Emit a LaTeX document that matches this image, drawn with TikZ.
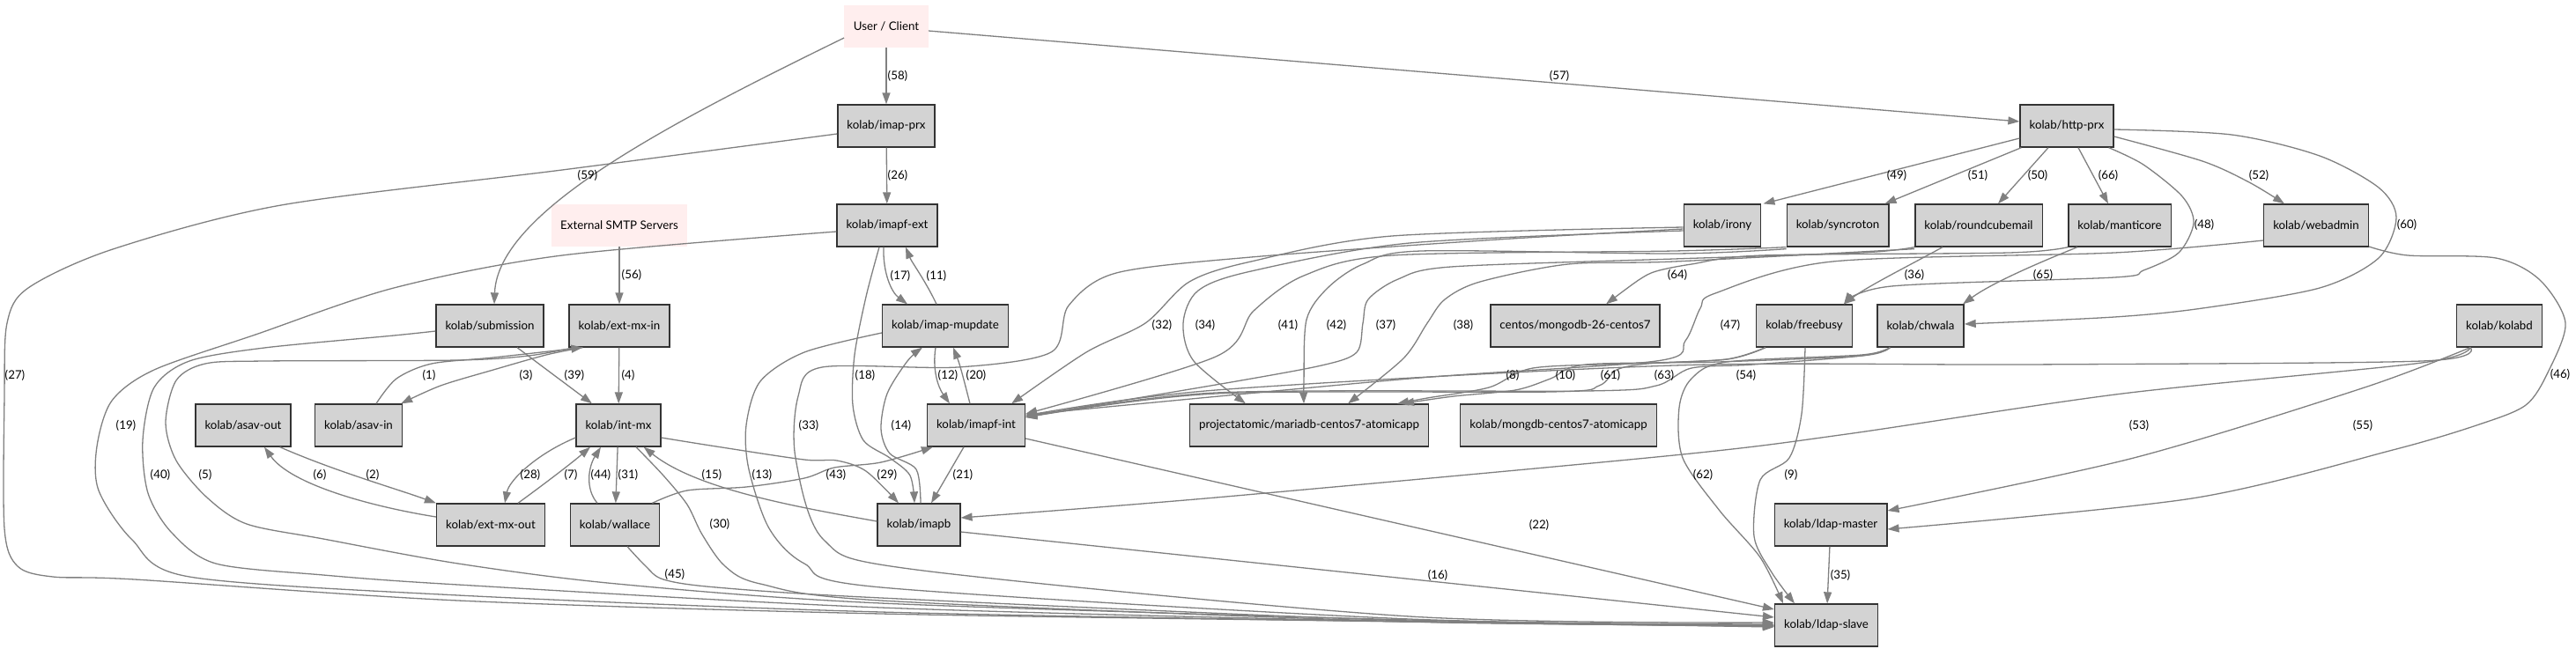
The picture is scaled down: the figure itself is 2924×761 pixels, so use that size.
\documentclass[tikz,border=0pt]{standalone}
\usepackage{fontspec}
\setmainfont{Lato}
\usetikzlibrary{arrows.meta,calc}
\definecolor{boxgray}{HTML}{D3D3D3}
\definecolor{linkgray}{HTML}{808080}
\definecolor{extpink}{HTML}{FFEEEE}
\tikzset{
  box/.style={draw=black!80, line width=1.3pt, fill=boxgray, minimum height=48pt, inner xsep=10.6pt, inner ysep=0pt, font=\fontsize{13.3}{16}\selectfont},
  extbox/.style={fill=extpink, minimum height=48pt, inner xsep=10.6pt, inner ysep=0pt, font=\fontsize{13.3}{16}\selectfont},
  link/.style={draw=linkgray, line width=1.3pt, -{Triangle[length=13pt,width=9pt]}},
  lbl/.style={font=\fontsize{13.3}{16}\selectfont, inner sep=0pt}
}
\begin{document}
\begin{tikzpicture}[x=1pt,y=-1pt]
    \useasboundingbox (0,0) rectangle (2924,761);

    % Outside
    \node[extbox] (user) at (1006,30) {User / Client};
    \node[extbox] (smtp) at (703,256) {External SMTP Servers};

    % IMAP
    \node[box] (imapprx) at (1006,143) {kolab/imap-prx};
    \node[box] (imapfext) at (1007,256) {kolab/imapf-ext};
    \node[box] (mupdate) at (1073,370) {kolab/imap-mupdate};
    \node[box] (imapfint) at (1108,483) {kolab/imapf-int};
    \node[box] (imapb) at (1043,596) {kolab/imapb};

    % Databases
    \node[box] (mariadb) at (1486,483) {projectatomic/mariadb-centos7-atomicapp};
    \node[box] (mongoapp) at (1769,483) {kolab/mongdb-centos7-atomicapp};
    \node[box] (mongo26) at (1788,370) {centos/mongodb-26-centos7};

    % Web
    \node[box] (httpprx) at (2346,143) {kolab/http-prx};
    \node[box] (irony) at (1955,256) {kolab/irony};
    \node[box] (syncroton) at (2086,256) {kolab/syncroton};
    \node[box] (roundcube) at (2246,256) {kolab/roundcubemail};
    \node[box] (manticore) at (2406,256) {kolab/manticore};
    \node[box] (webadmin) at (2629,256) {kolab/webadmin};
    \node[box] (freebusy) at (2048,370) {kolab/freebusy};
    \node[box] (chwala) at (2180,370) {kolab/chwala};
    \node[box] (kolabd) at (2837,370) {kolab/kolabd};

    % LDAP
    \node[box] (ldapmaster) at (2078,596) {kolab/ldap-master};
    \node[box] (ldapslave) at (2073,710) {kolab/ldap-slave};

    % Mail
    \node[box] (submission) at (556,370) {kolab/submission};
    \node[box] (extmxin) at (703,370) {kolab/ext-mx-in};
    \node[box] (asavout) at (276,483) {kolab/asav-out};
    \node[box] (asavin) at (407,483) {kolab/asav-in};
    \node[box] (intmx) at (702,483) {kolab/int-mx};
    \node[box] (extmxout) at (557,596) {kolab/ext-mx-out};
    \node[box] (wallace) at (698,596) {kolab/wallace};

    % From the outside
    \draw[link] (user) -- (imapprx) node[lbl] (l58) at (1019,86) {(58)};
    \draw[link] ($(user.east)+(0,5)$) -- ($(httpprx.west)+(0,-5)$) node[lbl] (l57) at (1770,86) {(57)};
    \draw[link] ($(user.west)+(0,13)$) .. controls (760,140) and (565,240) .. ($(submission.north)+(5,0)$) node[lbl] (l59) at (667,199) {(59)};
    \draw[link] (smtp) -- (extmxin) node[lbl] (l56) at (717,312) {(56)};

    % Mail chain
    \draw[link] plot[smooth] coordinates {($(asavin.north)+(20,0)$) (450,430) (490,413) (560,406) ($(extmxin.south west)+(16,0)$)} node[lbl] (l1) at (487,426) {(1)};
    \draw[link] plot[smooth] coordinates {($(extmxin.south west)+(16,0)$) (620,403) (560,420) (500,438) ($(asavin.north east)+(-2,0)$)} node[lbl] (l3) at (597,426) {(3)};
    \draw[link] ($(asavout.south east)+(-13,0)$) .. controls (380,535) and (450,555) .. (extmxout.north west) node[lbl] (l2) at (423,539) {(2)};
    \draw[link] ($(extmxout.west)+(0,-9)$) .. controls (420,575) and (330,550) .. ($(asavout.south)+(24,0)$) node[lbl] (l6) at (363,539) {(6)};
    \draw[link] ($(submission.south)+(31,0)$) -- ($(intmx.north)+(-30,0)$) node[lbl] (l39) at (652,426) {(39)};
    \draw[link] (extmxin) -- (intmx) node[lbl] (l4) at (713,426) {(4)};
    \draw[link] ($(intmx.west)+(0,14)$) .. controls (610,515) and (578,545) .. ($(extmxout.north)+(16,0)$) node[lbl] (l28) at (602,539) {(28)};
    \draw[link] ($(extmxout.north)+(31,0)$) .. controls (620,548) and (650,525) .. ($(intmx.south)+(-32,0)$) node[lbl] (l7) at (648,539) {(7)};
    \draw[link] ($(wallace.north)+(-20,0)$) .. controls (664,555) and (668,530) .. ($(intmx.south)+(-20,0)$) node[lbl] (l44) at (682,539) {(44)};
    \draw[link] (intmx) -- (wallace) node[lbl] (l31) at (713,539) {(31)};
    \draw[link] ($(imapb.west)+(0,-4)$) .. controls (900,575) and (790,555) .. ($(intmx.south east)+(-20,0)$) node[lbl] (l15) at (808,539) {(15)};
    \draw[link] plot[smooth] coordinates {($(intmx.east)+(0,14)$) (813,507) (913,522) (950,523) (983,535) ($(imapb.north)+(-23,0)$)} node[lbl] (l29) at (1007,539) {(29)};
    \draw[link] plot[smooth] coordinates {($(wallace.north east)+(-9,0)$) (780,557) (847,553) (913,543) (947,531) (1000,525) ($(imapfint.south west)+(7,0)$)} node[lbl] (l43) at (949,539) {(43)};

    % IMAP chain
    \draw[link] (imapprx) -- (imapfext) node[lbl] (l26) at (1019,199) {(26)};
    \draw[link] ($(mupdate.north)+(-10,0)$) .. controls (1050,318) and (1035,298) .. ($(imapfext.south)+(21,0)$) node[lbl] (l11) at (1063,313) {(11)};
    \draw[link] ($(imapfext.south)+(-4,0)$) .. controls (1002,310) and (1012,332) .. ($(mupdate.north)+(-43,0)$) node[lbl] (l17) at (1022,313) {(17)};
    \draw[link] plot[smooth] coordinates {($(imapfext.south)+(-9,0)$) (983,337) (970,403) (968,460) (980,500) (1010,520) (1033,540) ($(imapb.north)+(-5,0)$)} node[lbl] (l18) at (982,426) {(18)};
    \draw[link] plot[smooth] coordinates {($(imapb.north)+(2,0)$) (1040,533) (1010,515) (1000,487) (1007,447) (1030,410) ($(mupdate.south)+(-26,0)$)} node[lbl] (l14) at (1023,483) {(14)};
    \draw[link] ($(mupdate.south)+(-11,0)$) .. controls (1058,420) and (1065,440) .. ($(imapfint.north)+(-30,0)$) node[lbl] (l12) at (1076,426) {(12)};
    \draw[link] ($(imapfint.north)+(-7,0)$) .. controls (1095,435) and (1090,415) .. ($(mupdate.south)+(9,0)$) node[lbl] (l20) at (1108,426) {(20)};
    \draw[link] ($(imapfint.south)+(-14,0)$) -- ($(imapb.north)+(14,0)$) node[lbl] (l21) at (1093,539) {(21)};

    % To ldap-slave
    \draw[link] plot[smooth] coordinates {($(imapprx.west)+(0,9)$) (638,193) (319,233) (128,283) (32,327) (8,367) (5,450) (5,600) (20,643) (60,655) (153,658) (520,682) (1000,697) (1600,706) ($(ldapslave.west)+(0,1)$)} node[lbl] (l27) at (17,426) {(27)};
    \draw[link] plot[smooth] coordinates {($(imapfext.west)+(0,7)$) (638,290) (447,327) (290,380) (175,420) (127,455) (110,507) (112,557) (150,613) (215,655) (520,676) (1000,695) (1600,706) ($(ldapslave.west)+(0,0)$)} node[lbl] (l19) at (143,483) {(19)};
    \draw[link] plot[smooth] coordinates {($(submission.west)+(0,6)$) (447,381) (300,395) (215,410) (175,440) (162,500) (168,560) (195,605) (245,640) (367,653) (520,664) (1000,690) (1600,706) ($(ldapslave.west)+(0,1)$)} node[lbl] (l40) at (182,539) {(40)};
    \draw[link] plot[smooth] coordinates {($(extmxin.south west)+(6,0)$) (600,404) (520,409) (300,410) (233,413) (200,432) (188,480) (200,523) (235,565) (280,595) (367,612) (520,640) (700,663) (1000,685) (1600,704) ($(ldapslave.west)+(0,2)$)} node[lbl] (l5) at (233,539) {(5)};
    \draw[link] plot[smooth] coordinates {($(intmx.south)+(20,0)$) (753,540) (780,573) (797,607) (823,643) (863,663) (1000,682) (1600,706) ($(ldapslave.west)+(0,0)$)} node[lbl] (l30) at (817,595) {(30)};
    \draw[link] plot[smooth] coordinates {($(wallace.south)+(14,0)$) (733,643) (753,658) (813,667) (1000,679) (1600,705) ($(ldapslave.west)+(0,1)$)} node[lbl] (l45) at (766,652) {(45)};
    \draw[link] plot[smooth] coordinates {($(mupdate.west)+(0,8)$) (913,400) (863,433) (847,483) (850,533) (873,600) (913,640) (1000,667) (1600,703) ($(ldapslave.west)+(0,-1)$)} node[lbl] (l13) at (865,539) {(13)};
    \draw[link] plot[smooth] coordinates {($(irony.west)+(0,4)$) (1700,272) (1420,292) (1267,310) (1213,347) (1193,400) (1087,417) (933,417) (906,450) (903,520) (935,613) (1040,647) (1600,700) ($(ldapslave.west)+(0,-3)$)} node[lbl] (l33) at (918,483) {(33)};
    \draw[link] ($(imapb.east)+(0,8)$) -- ($(ldapslave.west)+(0,-9)$) node[lbl] (l16) at (1632,653) {(16)};
    \draw[link] ($(imapfint.east)+(0,15)$) -- ($(ldapslave.west)+(0,-18)$) node[lbl] (l22) at (1747,596) {(22)};
    \draw[link] plot[smooth] coordinates {($(freebusy.south)+(1,0)$) (2045,470) (2031,520) (1998,545) (1991,609) (2011,650) ($(ldapslave.north)+(-36,0)$)} node[lbl] (l9) at (2033,539) {(9)};
    \draw[link] plot[smooth] coordinates {($(chwala.south west)+(15,0)$) (2113,403) (1960,411) (1920,430) (1906,463) (1910,520) (1952,580) (1998,633) ($(ldapslave.north)+(-49,0)$)} node[lbl] (l62) at (1933,539) {(62)};
    \draw[link] (ldapmaster) -- (ldapslave) node[lbl] (l35) at (2089,653) {(35)};

    % From http-prx
    \draw[link] ($(httpprx.west)+(0,14)$) -- ($(irony.north east)+(2,0)$) node[lbl] (l49) at (2153,199) {(49)};
    \draw[link] ($(httpprx.south west)+(2,0)$) -- ($(syncroton.north east)+(-5,0)$) node[lbl] (l51) at (2245,199) {(51)};
    \draw[link] ($(httpprx.south)+(-21,0)$) -- ($(roundcube.north)+(22,0)$) node[lbl] (l50) at (2313,199) {(50)};
    \draw[link] ($(httpprx.south)+(13,0)$) -- ($(manticore.north)+(-13,0)$) node[lbl] (l66) at (2393,199) {(66)};
    \draw[link] plot[smooth] coordinates {($(httpprx.east)+(0,12)$) (2500,183) (2553,207) ($(webadmin.north)+(-36,0)$)} node[lbl] (l52) at (2564,199) {(52)};
    \draw[link] plot[smooth] coordinates {($(httpprx.south east)+(-6,0)$) (2433,187) (2477,223) (2490,253) (2473,287) (2433,307) (2400,315) (2147,325) ($(freebusy.north)+(45,0)$)} node[lbl] (l48) at (2502,255) {(48)};
    \draw[link] plot[smooth] coordinates {($(httpprx.east)+(0,4)$) (2533,153) (2633,177) (2700,213) (2720,247) (2700,293) (2633,327) (2500,350) (2400,360) ($(chwala.east)+(0,-2)$)} node[lbl] (l60) at (2732,255) {(60)};

    % Web services
    \draw[link] ($(roundcube.south)+(-41,0)$) .. controls (2170,300) and (2120,325) .. ($(freebusy.north)+(45,0)$) node[lbl] (l36) at (2173,312) {(36)};
    \draw[link] ($(manticore.south)+(-48,0)$) .. controls (2310,300) and (2260,322) .. ($(chwala.north)+(48,0)$) node[lbl] (l65) at (2319,312) {(65)};
    \draw[link] plot[smooth] coordinates {(manticore.south west) (2280,287) (2000,290) (1920,300) (1880,308) (1860,318) ($(mongo26.north)+(35,0)$)} node[lbl] (l64) at (1904,312) {(64)};
    \draw[link] plot[smooth] coordinates {($(irony.west)+(0,2)$) (1580,268) (1420,297) (1350,320) (1300,367) (1233,400) ($(imapfint.north east)+(-16,0)$)} node[lbl] (l32) at (1319,369) {(32)};
    \draw[link] plot[smooth] coordinates {($(irony.west)+(0,6)$) (1600,276) (1420,308) (1360,330) (1343,367) (1355,410) ($(mariadb.north)+(-72,0)$)} node[lbl] (l34) at (1368,369) {(34)};
    \draw[link] plot[smooth] coordinates {(syncroton.south west) (1900,285) (1580,290) (1480,313) (1423,353) (1380,405) ($(imapfint.east)+(0,-13)$)} node[lbl] (l41) at (1462,369) {(41)};
    \draw[link] plot[smooth] coordinates {($(syncroton.south west)+(0,2)$) (1900,288) (1613,285) (1547,300) (1507,327) (1483,363) (1480,433) ($(mariadb.north)+(-6,0)$)} node[lbl] (l42) at (1517,369) {(42)};
    \draw[link] plot[smooth] coordinates {(roundcube.south west) (2113,287) (1900,294) (1647,303) (1587,317) (1553,340) (1547,367) (1540,400) (1500,415) (1380,437) ($(imapfint.east)+(0,-10)$)} node[lbl] (l37) at (1573,369) {(37)};
    \draw[link] plot[smooth] coordinates {($(roundcube.south west)+(0,2)$) (1900,297) (1780,300) (1680,320) (1640,340) (1620,367) (1593,407) ($(mariadb.north)+(44,0)$)} node[lbl] (l38) at (1661,369) {(38)};
    \draw[link] plot[smooth] coordinates {($(webadmin.west)+(0,17)$) (2400,287) (2080,297) (1947,333) (1930,350) (1913,387) (1880,410) (1600,430) ($(imapfint.east)+(0,-12)$)} node[lbl] (l47) at (1964,369) {(47)};
    \draw[link] plot[smooth] coordinates {($(webadmin.east)+(0,24)$) (2733,290) (2833,293) (2883,318) (2912,367) (2892,423) (2867,460) (2814,482) (2716,511) (2488,566) ($(ldapmaster.east)+(0,5)$)} node[lbl] (l46) at (2906,425) {(46)};

    % freebusy, chwala, kolabd
    \draw[link] plot[smooth] coordinates {($(freebusy.south west)+(11,0)$) (1960,408) (1850,413) (1740,418) (1690,440) (1620,452) ($(mariadb.north)+(100,0)$)} node[lbl] (l8) at (1717,426) {(8)};
    \draw[link] plot[smooth] coordinates {($(chwala.south west)+(15,0)$) (2113,404) (1950,411) (1800,414) (1760,430) (1720,443) (1650,450) ($(mariadb.north)+(106,0)$)} node[lbl] (l10) at (1777,426) {(10)};
    \draw[link] plot[smooth] coordinates {($(freebusy.south west)+(11,0)$) (1960,408) (1870,413) (1835,420) (1815,438) (1760,445) (1380,447) ($(imapfint.east)+(0,-9)$)} node[lbl] (l61) at (1828,426) {(61)};
    \draw[link] plot[smooth] coordinates {($(chwala.south west)+(15,0)$) (2113,404) (1990,414) (1920,418) (1880,438) (1800,444) (1380,446) ($(imapfint.east)+(0,-9)$)} node[lbl] (l63) at (1889,426) {(63)};
    \draw[link] plot[smooth] coordinates {($(kolabd.south)+(-33,0)$) (2749,410) (2300,414) (1900,415) (1380,443) ($(imapfint.east)+(0,-11)$)} node[lbl] (l54) at (1982,426) {(54)};
    \draw[link] plot[smooth] coordinates {($(kolabd.south)+(-33,0)$) (2749,412) (2409,447) (2096,493) (1900,517) (1380,565) ($(imapb.east)+(0,-8)$)} node[lbl] (l53) at (2428,483) {(53)};
    \draw[link] plot[smooth] coordinates {($(kolabd.south)+(-33,0)$) (2684,440) (2422,520) ($(ldapmaster.east)+(0,-16)$)} node[lbl] (l55) at (2682,483) {(55)};
\end{tikzpicture}
\end{document}
